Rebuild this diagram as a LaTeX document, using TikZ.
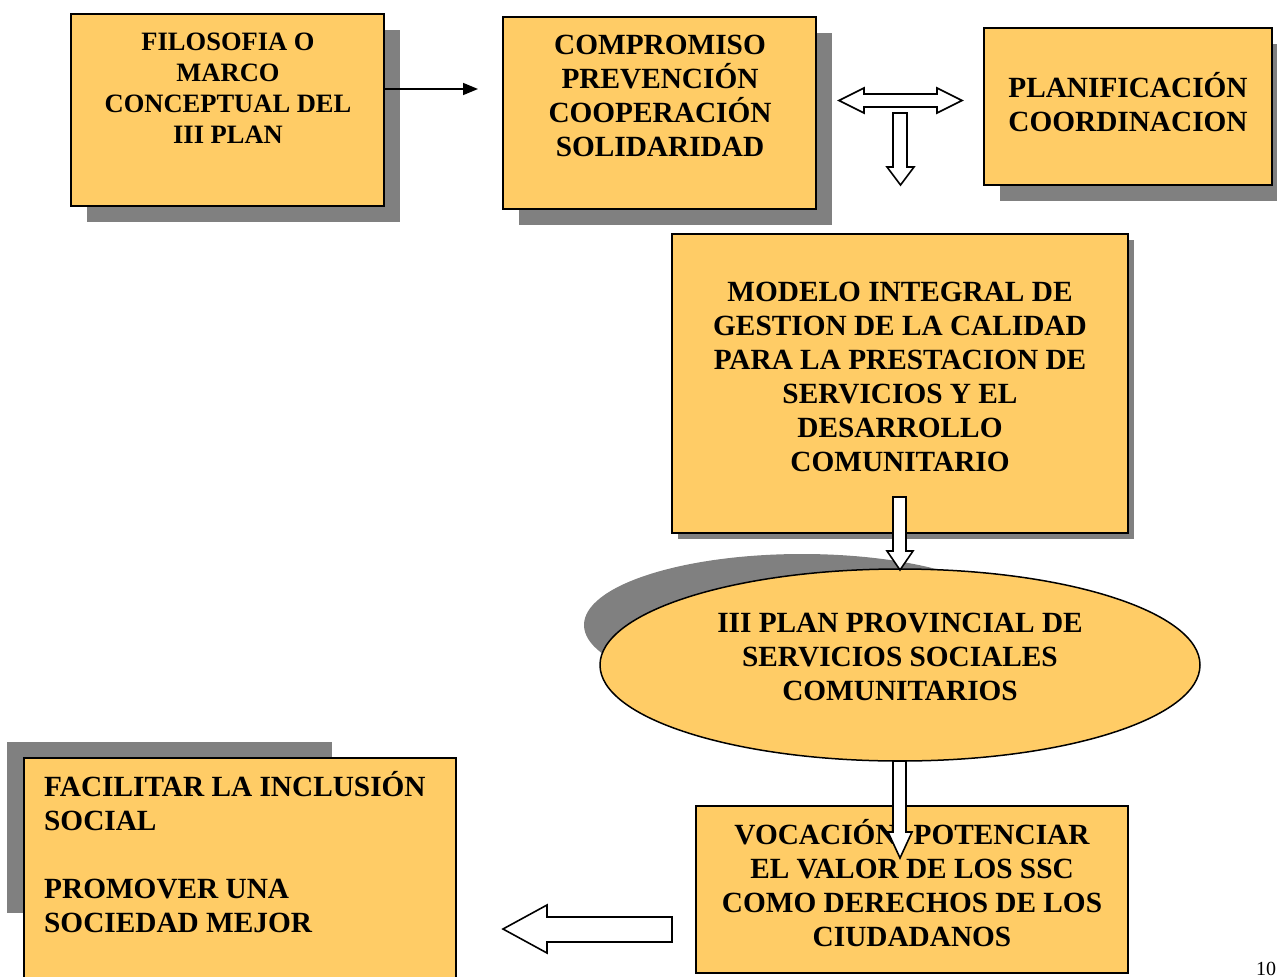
\documentclass[tikz,border=0pt]{standalone}
\usepackage{fontspec}
\setmainfont{Liberation Serif}
\usetikzlibrary{shapes.geometric,arrows.meta}
\definecolor{boxfill}{HTML}{FFCC66}
\definecolor{shadowgray}{HTML}{808080}
\begin{document}
\begin{tikzpicture}[x=1pt,y=-1pt,
  box/.style={draw=black, line width=1.5pt, fill=boxfill, rectangle, inner sep=0pt},
  shadowfill/.style={fill=shadowgray, draw=none},
  txt/.style={font=\bfseries\fontsize{29.3}{34}\selectfont, align=center, inner sep=0pt},
  txtsmall/.style={font=\bfseries\fontsize{26.5}{31}\selectfont, align=center, inner sep=0pt},
  blockarrow/.style={draw=black, line width=1.6pt, fill=white, line join=miter}]

\useasboundingbox (0,0) rectangle (1277,977);

% shadows
\fill[shadowfill] (87,30) rectangle (400,222);
\fill[shadowfill] (519,33) rectangle (832,225);
\fill[shadowfill] (1000,44) rectangle (1288,201);
\fill[shadowfill] (678,240) rectangle (1134,539);
\fill[shadowfill] (802,625) ellipse [x radius=218, y radius=71];
\fill[shadowfill] (7,742) rectangle (332,913);

% boxes
\node[box, minimum width=313, minimum height=192] (b1) at (227.5,110) {};
\node[box, minimum width=313, minimum height=192] (b2) at (659.5,113) {};
\node[box, minimum width=288, minimum height=157] (b3) at (1128,106.5) {};
\node[box, minimum width=456, minimum height=299] (b4) at (900,383.5) {};
\node[box, ellipse, minimum width=600, minimum height=192] (el) at (900,665) {};
\node[box, minimum width=432, minimum height=242] (b6) at (240,879) {};
\node[box, minimum width=432, minimum height=167] (b7) at (912,889.5) {};

% texts
\node[txtsmall] (t1) at (228,88) {FILOSOFIA O\\MARCO\\CONCEPTUAL DEL\\III PLAN};
\node[txt] (t2) at (660,95.5) {COMPROMISO\\PREVENCIÓN\\COOPERACIÓN\\SOLIDARIDAD};
\node[txt] (t3) at (1128,102) {PLANIFICACIÓN\\COORDINACION};
\node[txt] (t4) at (900,376.5) {MODELO INTEGRAL DE\\GESTION DE LA CALIDAD\\PARA LA PRESTACION DE\\SERVICIOS Y EL\\DESARROLLO\\COMUNITARIO};
\node[txt] (t5) at (900,656.5) {III PLAN PROVINCIAL DE\\SERVICIOS SOCIALES\\COMUNITARIOS};
\node[txt, align=left, anchor=west] (t6) at (44,852) {FACILITAR LA INCLUSIÓN\\SOCIAL\\\mbox{}\\PROMOVER UNA\\SOCIEDAD MEJOR};
\node[txt] (t7) at (912,883) {VOCACIÓN: POTENCIAR\\EL VALOR DE LOS SSC\\COMO DERECHOS DE LOS\\CIUDADANOS};
\node[font=\fontsize{20}{24}\selectfont, inner sep=0pt, anchor=base west] (pg) at (1256,975) {10};

% connectors
\coordinate (a1end) at (478,89);
\draw[line width=1.5pt, -{Triangle[length=15pt,width=12pt]}] ([yshift=21pt]b1.east) -- (a1end);

\draw[blockarrow] (839,100.5) -- (864,88) -- (864,94) -- (937,94) -- (937,88) -- (962,100.5) -- (937,113) -- (937,107) -- (864,107) -- (864,113) -- cycle;
\draw[blockarrow] (893,113) -- (907,113) -- (907,167) -- (914,167) -- (900.5,185) -- (887,167) -- (893,167) -- cycle;
\draw[blockarrow] (893,497) -- (906,497) -- (906,551) -- (913,551) -- (900,570) -- (887,551) -- (893,551) -- cycle;
\draw[blockarrow] (893,761) -- (906,761) -- (906,832) -- (912,832) -- (900,858) -- (888,832) -- (893,832) -- cycle;
\draw[blockarrow] (503,929) -- (547,905) -- (547,917) -- (672,917) -- (672,942) -- (547,942) -- (547,953) -- cycle;
\end{tikzpicture}
\end{document}
